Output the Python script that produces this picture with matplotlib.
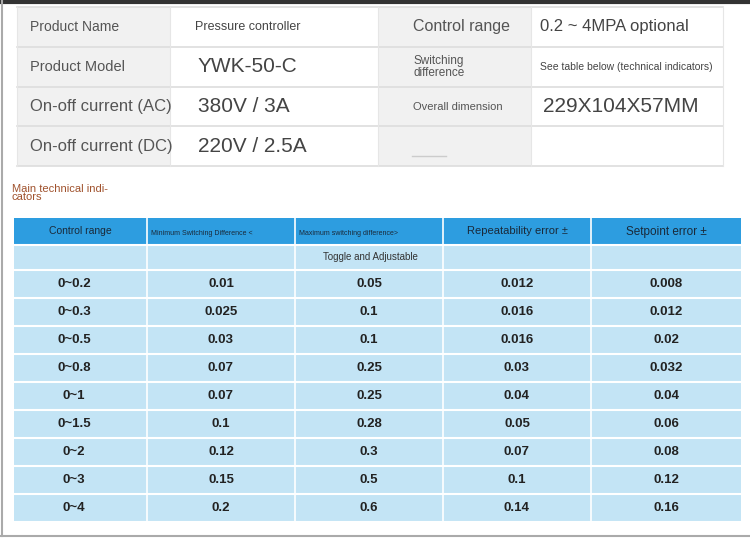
import matplotlib.pyplot as plt
from matplotlib.patches import Rectangle

plt.rcParams['font.family'] = ['Liberation Sans', 'DejaVu Sans']

# Top table (product info)
info_left_labels = ['Product Name', 'Product Model', 'On-off current (AC)', 'On-off current (DC)']
info_left_values = ['Pressure controller', 'YWK-50-C', '380V / 3A', '220V / 2.5A']
info_right_labels = ['Control range', 'Switching\ndifference', 'Overall dimension', '___']
info_right_values = ['0.2 ~ 4MPA optional', 'See table below (technical indicators)', '229X104X57MM', '']

# Lower table (technical indicators)
headers = ['Control range', 'Minimum Switching Difference <', 'Maximum switching difference>',
           'Repeatability error ±', 'Setpoint error ±']
control_range = ['0~0.2', '0~0.3', '0~0.5', '0~0.8', '0~1', '0~1.5', '0~2', '0~3', '0~4']
min_diff = ['0.01', '0.025', '0.03', '0.07', '0.07', '0.1', '0.12', '0.15', '0.2']
max_diff = ['0.05', '0.1', '0.1', '0.25', '0.25', '0.28', '0.3', '0.5', '0.6']
repeat_err = ['0.012', '0.016', '0.016', '0.03', '0.04', '0.05', '0.07', '0.1', '0.14']
setpoint_err = ['0.008', '0.012', '0.02', '0.032', '0.04', '0.06', '0.08', '0.12', '0.16']

fig = plt.figure(figsize=(7.5, 5.4), dpi=100)
ax = fig.add_axes([0, 0, 1, 1])
ax.set_xlim(0, 750)
ax.set_ylim(540, 0)
ax.axis('off')

# frame
ax.plot([0, 750], [1.5, 1.5], color='#333333', lw=3)
ax.plot([2, 2], [0, 536], color='#aaaaaa', lw=1.5)
ax.plot([0, 750], [536, 536], color='#aaaaaa', lw=1.5)

# top table
cols = [17, 170, 378, 531, 723]
rows = [7, 47, 87, 126, 166]
for c, fc in zip(range(4), ['#f1f1f1', 'white', '#f1f1f1', 'white']):
    ax.add_patch(Rectangle((cols[c], rows[0]), cols[c + 1] - cols[c], rows[-1] - rows[0],
                           fc=fc, ec='none'))
for y in rows:
    ax.plot([cols[0], cols[-1]], [y, y], color='#dddddd', lw=1.2)
for x in cols:
    ax.plot([x, x], [rows[0], rows[-1]], color='#e6e6e6', lw=0.8)

left_sizes = [9, 15, 15, 15]
right_sizes = [12, 7.5, 15, 12]
lab_sizes = [10, 10.5, 12, 12]
rsizes = [11.5, 8.5, 8, 7]
for i in range(4):
    yc = (rows[i] + rows[i + 1]) / 2
    ax.text(30, yc, info_left_labels[i], fontsize=lab_sizes[i], color='#555555', va='center')
    ax.text(cols[1] + 25 if i == 0 else cols[1] + 28, yc, info_left_values[i],
            fontsize=left_sizes[i], color='#444444', va='center')
    lab = info_right_labels[i]
    if lab == '___':
        ax.plot([412, 446], [yc + 10, yc + 10], color='#cccccc', lw=1)
    else:
        ax.text(413, yc, lab, fontsize=rsizes[i], color='#555555', va='center', linespacing=0.95)
    ax.text(540 if i != 2 else 543, yc, info_right_values[i], fontsize=right_sizes[i],
            color='#444444', va='center')

ax.text(12, 193, 'Main technical indi-\ncators', fontsize=8, color='#a0522d',
        va='center', linespacing=0.85)

# lower table
tcols = [14, 147, 295, 443, 591, 741]
head_top, head_bot, sub_bot, rh = 218, 245, 270, 28
ax.add_patch(Rectangle((tcols[0], head_top), tcols[-1] - tcols[0], head_bot - head_top,
                       fc='#2d9de0', ec='none'))
n = len(control_range)
ax.add_patch(Rectangle((tcols[0], head_bot), tcols[-1] - tcols[0], sub_bot + n * rh - head_bot,
                       fc='#c3e4f5', ec='none'))
for x in tcols[1:-1]:
    ax.plot([x, x], [head_top, sub_bot + n * rh], color='white', lw=1.2)
for k in range(n + 1):
    ax.plot([tcols[0], tcols[-1]], [sub_bot + k * rh, sub_bot + k * rh], color='white', lw=1.5)
ax.plot([tcols[0], tcols[-1]], [head_bot, head_bot], color='white', lw=1.5)

hsizes = [7.5, 5, 5, 8, 8.5]
for j, h in enumerate(headers):
    yc = (head_top + head_bot) / 2
    if j in (1, 2):
        ax.text(tcols[j] + 4, yc + 2, h, fontsize=hsizes[j], color='#1a2a3a', va='center')
    else:
        ax.text((tcols[j] + tcols[j + 1]) / 2, yc, h, fontsize=hsizes[j], color='#1a2a3a',
                va='center', ha='center')
ax.text(370, (head_bot + sub_bot) / 2, 'Toggle and Adjustable', fontsize=7,
        color='#333333', ha='center', va='center')

for j, col in enumerate([control_range, min_diff, max_diff, repeat_err, setpoint_err]):
    xc = (tcols[j] + tcols[j + 1]) / 2
    if j == 0:
        xc = 74
    for k, v in enumerate(col):
        ax.text(xc, sub_bot + k * rh + rh / 2, v, fontsize=9.5, fontweight='bold',
                color='#222222', ha='center', va='center')

fig.savefig('out.png', dpi=100)
